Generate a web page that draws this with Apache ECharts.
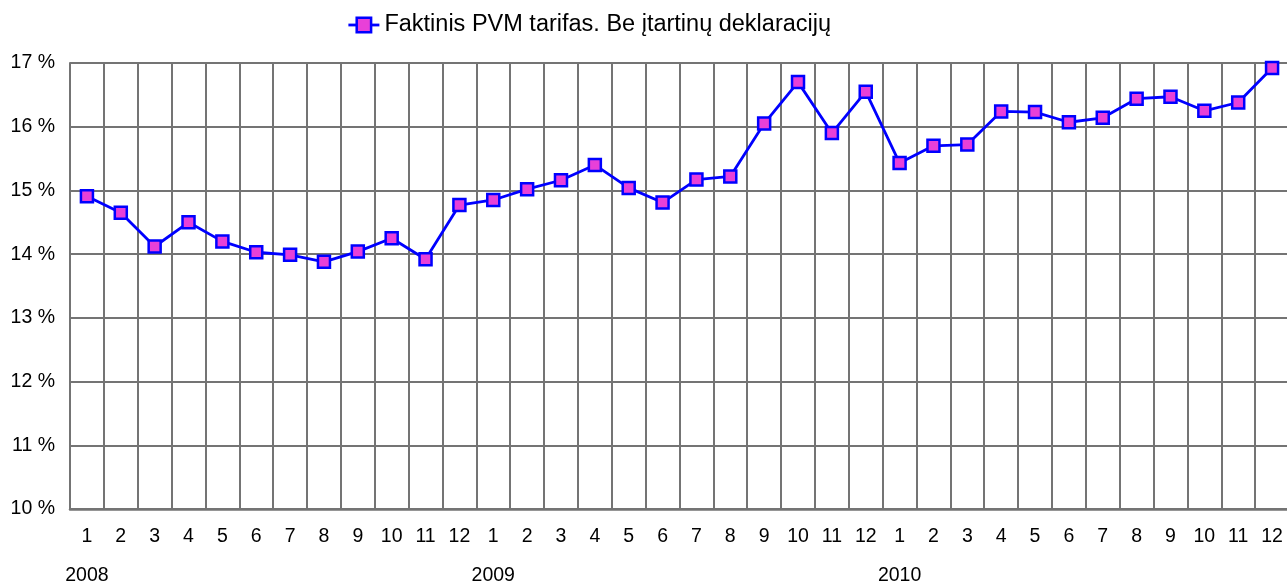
<!DOCTYPE html>
<html>
<head>
<meta charset="utf-8">
<script src="https://cdn.jsdelivr.net/npm/echarts@6/dist/echarts.min.js"></script>
<style>
	html, body { margin: 0; padding: 0; background: #fff; }
	#chart { width: 1287px; height: 582px; }
</style>
</head>
<body>
<div id="chart"></div>
<script>
var years = ['2008', '2009', '2010'];
var months = ['1', '2', '3', '4', '5', '6', '7', '8', '9', '10', '11', '12'];
var yTicks = [10, 11, 12, 13, 14, 15, 16, 17];
var seriesName = 'Faktinis PVM tarifas. Be įtartinų deklaracijų';
var rate2008 = [14.91, 14.65, 14.12, 14.50, 14.20, 14.03, 13.99, 13.88, 14.04, 14.25, 13.92, 14.77];
var rate2009 = [14.85, 15.02, 15.16, 15.40, 15.04, 14.81, 15.17, 15.22, 16.05, 16.70, 15.90, 16.55];
var rate2010 = [15.43, 15.70, 15.72, 16.24, 16.23, 16.07, 16.14, 16.44, 16.47, 16.25, 16.38, 16.92];

var periods = [];
for (var i = 0; i < years.length; i++) {
	for (var j = 0; j < months.length; j++) {
		periods.push(years[i] + '-' + months[j]);
	}
}
var rates = rate2008.concat(rate2009, rate2010);

var font = "'Liberation Sans', Arial, sans-serif";
var gridColor = '#747474';

var option = {
	animation : false,
	textStyle : { fontFamily : font },
	legend : {
		left : 342,
		top : 8,
		itemWidth : 31,
		itemHeight : 18,
		itemGap : 6,
		itemStyle : { borderWidth : 2.5 },
		lineStyle : { width : 2.8 },
		textStyle : { fontFamily : font, fontSize : 23.5, color : '#000' },
		data : [ seriesName ]
	},
	grid : {
		left : 70,
		top : 63,
		width : 1219,
		bottom : 73,
		containLabel : false,
		outerBoundsMode : 'none'
	},
	xAxis : [ {
		type : 'category',
		data : periods,
		boundaryGap : true,
		axisLine : { lineStyle : { color : gridColor, width : 2.5 } },
		axisTick : { show : false },
		splitLine : { show : true, interval : 0, lineStyle : { color : gridColor, width : 2 } },
		axisLabel : {
			interval : 0,
			margin : 18,
			fontSize : 19.5,
			fontFamily : font,
			color : '#000',
			formatter : function (v) { return v.split('-')[1]; }
		}
	}, {
		type : 'category',
		data : periods,
		position : 'bottom',
		offset : 39,
		boundaryGap : true,
		axisLine : { show : false },
		axisTick : { show : false },
		splitLine : { show : false },
		axisLabel : {
			interval : 0,
			margin : 18,
			fontSize : 19.5,
			fontFamily : font,
			color : '#000',
			formatter : function (v) {
				var p = v.split('-');
				return p[1] === '1' ? p[0] : '';
			}
		}
	} ],
	yAxis : {
		type : 'value',
		min : yTicks[0],
		max : yTicks[yTicks.length - 1],
		interval : 1,
		axisLine : { show : true, lineStyle : { color : gridColor, width : 2 } },
		axisTick : { show : false },
		splitLine : { show : true, lineStyle : { color : gridColor, width : 2 } },
		axisLabel : {
			margin : 15,
			fontSize : 19.5,
			fontFamily : font,
			color : '#000',
			formatter : '{value} %'
		}
	},
	series : [ {
		name : seriesName,
		type : 'line',
		xAxisIndex : 0,
		data : rates,
		symbol : 'rect',
		symbolSize : 12,
		showAllSymbol : true,
		lineStyle : { color : '#0000ff', width : 2.8 },
		itemStyle : { color : '#e840d8', borderColor : '#0000ff', borderWidth : 2.5 }
	} ]
};

var myChart = echarts.init(document.getElementById('chart'));
myChart.setOption(option);
</script>
</body>
</html>
